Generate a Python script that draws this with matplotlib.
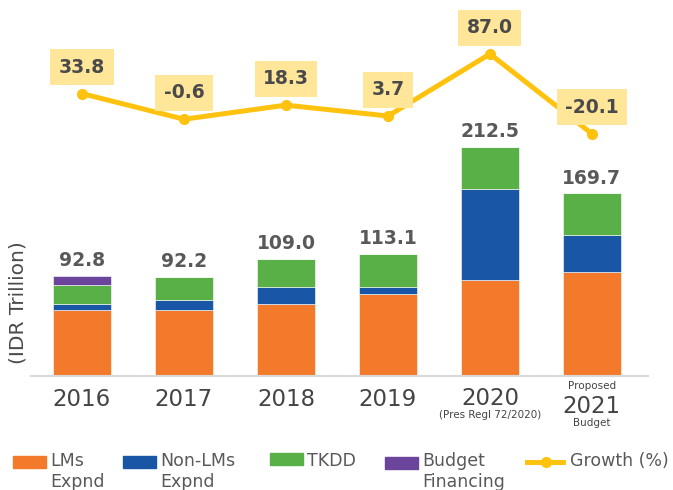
import numpy as np
import matplotlib.pyplot as plt
from matplotlib.patches import Rectangle
from matplotlib.lines import Line2D

years = ['2016', '2017', '2018', '2019', '2020', '2021']
lms_expnd = [61.3, 61.0, 67.0, 76.0, 89.2, 96.2]
non_lms_expnd = [5.4, 9.4, 15.8, 6.5, 84.6, 34.4]
tkdd = [18.3, 21.8, 26.2, 30.6, 38.7, 39.1]
budget_financing = [7.8, 0.0, 0.0, 0.0, 0.0, 0.0]
totals = [92.8, 92.2, 109.0, 113.1, 212.5, 169.7]
growth = [33.8, -0.6, 18.3, 3.7, 87.0, -20.1]

W, H = 673, 490
fig = plt.figure(figsize=(W / 100, H / 100), dpi=100)
ax = fig.add_axes([31 / W, (H - 376) / H, (648 - 31) / W, (376 - 10) / H])

c_orange = '#F47A2B'
c_blue = '#1957A6'
c_green = '#58B047'
c_purple = '#6A459B'
c_gold = '#FFC20E'
c_text = '#595959'

x = np.arange(len(years))
bw = 0.57
bottom = np.zeros(len(years))
for vals, col in [(lms_expnd, c_orange), (non_lms_expnd, c_blue),
                  (tkdd, c_green), (budget_financing, c_purple)]:
    ax.bar(x, vals, bw, bottom=bottom, color=col, edgecolor='#ffffff', linewidth=0.4)
    bottom += np.array(vals)

for i, t in enumerate(totals):
    ax.annotate('{:.1f}'.format(t), (x[i], t), xytext=(0, 11), textcoords='offset points',
                ha='center', va='center', fontsize=13.5, fontweight='bold', color=c_text)

ax.set_xlim(-0.5, 5.55)
ax.set_ylim(0, 340)
ax.set_yticks([])
ax.set_xticks([])
for s in ['top', 'right', 'left']:
    ax.spines[s].set_visible(False)
ax.spines['bottom'].set_color('#D9D9D9')
ax.spines['bottom'].set_linewidth(1.5)

# year labels under the axis
year_dy = [-17, -17, -17, -17, -16, -22]
for i, yr in enumerate(years):
    ax.annotate(yr, (x[i], 0), xytext=(0, year_dy[i]), textcoords='offset points',
                ha='center', va='center', fontsize=16.5, color='#444444', annotation_clip=False)
ax.annotate('(Pres Regl 72/2020)', (x[4], 0), xytext=(0, -28), textcoords='offset points',
            ha='center', va='center', fontsize=7.5, color='#444444', annotation_clip=False)
ax.annotate('Proposed', (x[5], 0), xytext=(0, -7), textcoords='offset points',
            ha='center', va='center', fontsize=7.5, color='#444444', annotation_clip=False)
ax.annotate('Budget', (x[5], 0), xytext=(0, -34), textcoords='offset points',
            ha='center', va='center', fontsize=7.5, color='#444444', annotation_clip=False)

# growth line
ax2 = ax.twinx()
ax2.plot(x, growth, color=c_gold, linewidth=3.6, marker='o', markersize=7, zorder=3)
ax2.set_ylim(-345.3, 146.0)
ax2.set_yticks([])
ax2.axis('off')
for i, g in enumerate(growth):
    ax2.annotate('{:.1f}'.format(g), (x[i], g), xytext=(0, 19), textcoords='offset points',
                 ha='center', va='center', fontsize=13.5, fontweight='bold', color='#4A4A4A',
                 bbox=dict(boxstyle='square,pad=0.45', fc='#FFE699', ec='none'))

fig.text(18 / W, 1 - 303 / H, '(IDR Trillion)', rotation=90, ha='center', va='center',
         fontsize=14.5, color='#4A4A4A')

# legend
leg_items = [(13, 456, c_orange, 'LMs\nExpnd'), (123, 456, c_blue, 'Non-LMs\nExpnd'),
             (270, 453, c_green, 'TKDD'), (385, 457, c_purple, 'Budget\nFinancing')]
for lx, ly, col, lab in leg_items:
    fig.patches.append(Rectangle((lx / W, 1 - (ly + 12) / H), 33 / W, 12 / H,
                                 transform=fig.transFigure, color=col))
    fig.text((lx + 37) / W, 1 - 452 / H, lab, ha='left', va='top', fontsize=12.5,
             color=c_text, linespacing=1.2)
fig.lines.append(Line2D([527 / W, 563 / W], [1 - 462 / H, 1 - 462 / H], transform=fig.transFigure,
                        color=c_gold, linewidth=3.6))
fig.lines.append(Line2D([546 / W], [1 - 462 / H], transform=fig.transFigure,
                        color=c_gold, marker='o', markersize=7))
fig.text(570 / W, 1 - 452 / H, 'Growth (%)', ha='left', va='top', fontsize=12.5, color=c_text)

fig.savefig('out.png', dpi=100)
